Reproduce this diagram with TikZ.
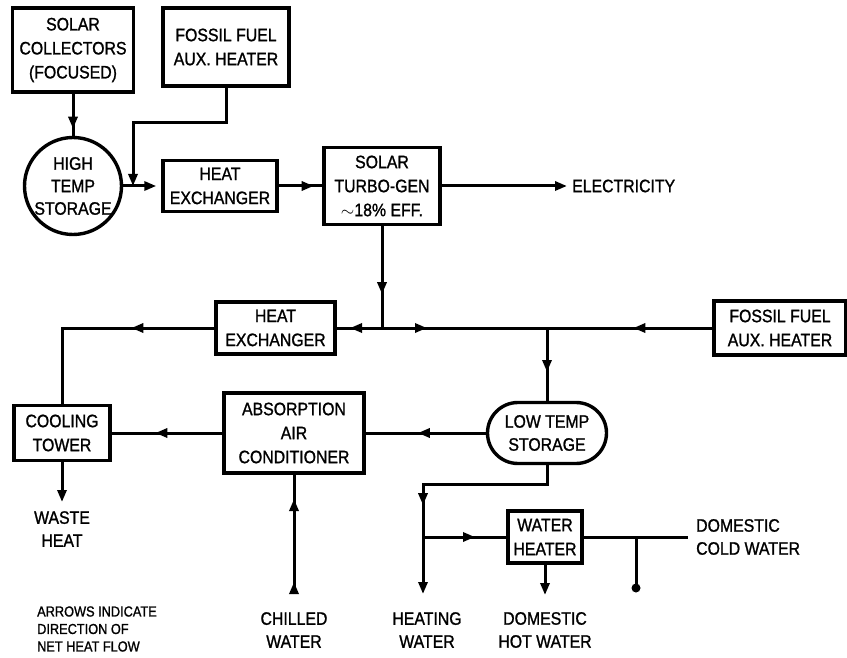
\documentclass[tikz,border=0pt]{standalone}
\usepackage{fontspec}
\setmainfont{Liberation Sans}[FakeStretch=0.88,FakeBold=1.2]
\usetikzlibrary{arrows.meta,decorations.markings,shapes.misc}
\tikzset{
  arr/.tip={Triangle[length=12pt,width=9pt]},
  box/.style={draw,line width=3.4pt,rectangle,inner sep=0pt,align=center,
    font=\fontsize{18}{24}\selectfont},
  lbl/.style={inner sep=0pt,align=center,font=\fontsize{18}{23}\selectfont},
  conn/.style={line width=3pt},
  arrowat/.style={postaction={decorate,decoration={markings,
      mark=at position #1 with {\arrow{arr}}}}},
}
\begin{document}
\begin{tikzpicture}[x=1pt,y=-1pt]
\useasboundingbox (0,0) rectangle (847,658);

% ---- nodes ----
\node[box,minimum width=121pt,minimum height=84pt] (sc) at (73,50) {SOLAR\\COLLECTORS\\(FOCUSED)};
\node[box,minimum width=126pt,minimum height=78pt] (ff1) at (226,47) {FOSSIL FUEL\\AUX. HEATER};
\node[draw,circle,line width=3.4pt,minimum size=97pt,inner sep=0pt,align=center,
      font=\fontsize{18}{22.5}\selectfont] (ht) at (73,186) {HIGH\\TEMP\\STORAGE};
\node[box,minimum width=114pt,minimum height=51pt] (hx1) at (220,186) {HEAT\\EXCHANGER};
\node[box,minimum width=116pt,minimum height=77pt] (tg) at (382,186) {SOLAR\\TURBO-GEN\\$\sim$18\% EFF.};
\node[lbl,anchor=west] (elec) at (572,186) {ELECTRICITY};

\node[box,minimum width=119pt,minimum height=52pt] (hx2) at (275.5,328) {HEAT\\EXCHANGER};
\node[box,minimum width=132pt,minimum height=54pt] (ff2) at (780,328) {FOSSIL FUEL\\AUX. HEATER};
\node[draw,rounded rectangle,line width=3.4pt,minimum width=119pt,minimum height=61pt,
      inner sep=0pt,align=center,font=\fontsize{18}{23}\selectfont] (lts) at (547,433) {LOW TEMP\\STORAGE};
\node[box,minimum width=140pt,minimum height=80pt] (aac) at (294,433) {ABSORPTION\\AIR\\CONDITIONER};
\node[box,minimum width=96pt,minimum height=55pt] (ct) at (62,433) {COOLING\\TOWER};
\node[box,minimum width=74pt,minimum height=52pt] (wh) at (545,537) {WATER\\HEATER};

\node[lbl] (waste) at (62,529) {WASTE\\HEAT};
\node[lbl] (chw) at (294,630) {CHILLED\\WATER};
\node[lbl] (hw) at (427,630) {HEATING\\WATER};
\node[lbl] (dhw) at (545,630) {DOMESTIC\\HOT WATER};
\node[lbl,anchor=west,align=left] (dcw) at (696,537) {DOMESTIC\\COLD WATER};
\node[inner sep=0pt,anchor=west,align=left,font=\fontsize{14.5}{17.5}\selectfont] (note) at (37,629)
  {ARROWS INDICATE\\DIRECTION OF\\NET HEAT FLOW};

% ---- coordinates ----
\coordinate (bend1) at (133,123);
\coordinate (j1) at (133,186);
\coordinate (j2) at (382,328);
\coordinate (j3) at (547,328);
\coordinate (b2) at (423,484);
\coordinate (jh) at (423,537);
\coordinate (hwend) at (423,594);
\coordinate (wasteend) at (62,502);
\coordinate (cwstart) at (294,594);
\coordinate (dhwend) at (545,595);
\coordinate (cwr) at (688,537);
\coordinate (j5) at (636,537);
\coordinate (dotc) at (636,588);

% ---- connectors ----
\draw[conn,arrowat=35pt] (sc.south) -- (ht.north);
\draw[conn,-{arr}] (ff1.south) |- (bend1) -- (j1);
\draw[conn,-{arr},shorten >=5pt] (ht.east) -- (hx1.west);
\draw[conn,arrowat=35pt] (hx1.east) -- (tg.west);
\draw[conn,-{arr},shorten >=5pt] (tg.east) -- (elec.west);
\draw[conn,arrowat=68pt] (tg.south) -- (j2);
\draw[conn,arrowat=32pt] (j2) -- (hx2.east);
\draw[conn,arrowat=45pt] (j2) -- (j3);
\draw[conn,arrowat=79pt] (ff2.west) -- (j3);
\draw[conn,arrowat=44pt] (j3) -- (lts.north);
\draw[conn,arrowat=83pt] (hx2.west) -| (ct.north);
\draw[conn,arrowat=68pt] (lts.west) -- (aac.east);
\draw[conn,arrowat=67pt] (aac.west) -- (ct.east);
\draw[conn,-{arr}] (ct.south) -- (wasteend);
\draw[conn,arrowat=12pt,arrowat=95pt] (cwstart) -- (aac.south);
\draw[conn,arrowat=164pt,-{arr}] (lts.south) |- (b2) -- (hwend);
\draw[conn,arrowat=52pt] (jh) -- (wh.west);
\draw[conn,-{arr}] (wh.south) -- (dhwend);
\draw[conn] (wh.east) -- (cwr);
\draw[conn] (j5) -- (dotc);
\fill (dotc) circle (4.5pt);
\end{tikzpicture}
\end{document}
